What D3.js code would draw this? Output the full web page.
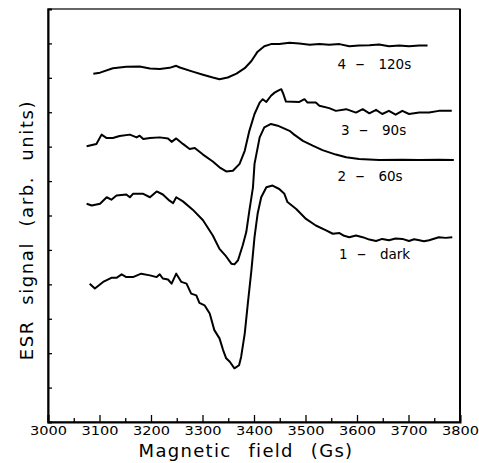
<!DOCTYPE html>
<html lang="en">
<head>
<meta charset="utf-8">
<title>ESR spectra</title>
<script src="https://cdn.jsdelivr.net/npm/d3@7"></script>
<style>
  body { margin: 0; background: #fff; }
  text { font-family: "DejaVu Sans", sans-serif; fill: #000; }
</style>
</head>
<body>
<script>
// [field (Gs), signal (arb. units)]
var dark = [[3081,4.02],[3091,3.88],[3107,4.07],[3123,4.19],[3133,4.19],[3143,4.29],[3152,4.21],[3165,4.21],
  [3181,4.31],[3198,4.26],[3211,4.21],[3217,4.29],[3223,4.17],[3233,4.14],[3240,4.02],[3249,4.31],[3259,4.07],
  [3269,4.02],[3278,3.73],[3288,3.68],[3294,3.46],[3304,3.39],[3314,3.15],[3323,2.67],[3333,2.43],[3340,2.09],
  [3346,1.85],[3353,1.75],[3362,1.56],[3371,1.65],[3375,1.89],[3382,2.57],[3388,3.44],[3395,4.41],[3401,5.37],
  [3407,6.05],[3414,6.53],[3424,6.82],[3436,6.87],[3449,6.77],[3459,6.63],[3465,6.39],[3482,6.19],[3501,5.90],
  [3520,5.71],[3540,5.57],[3553,5.47],[3566,5.49],[3575,5.41],[3585,5.37],[3598,5.42],[3611,5.37],[3624,5.30],
  [3637,5.26],[3649,5.32],[3662,5.28],[3675,5.33],[3688,5.32],[3701,5.26],[3711,5.31],[3721,5.28],[3730,5.25],
  [3740,5.28],[3759,5.37],[3772,5.35],[3785,5.37]];

var s60 = [[3075,6.34],[3085,6.29],[3101,6.34],[3114,6.53],[3123,6.46],[3133,6.58],[3152,6.61],[3159,6.53],
  [3165,6.63],[3185,6.63],[3198,6.53],[3211,6.70],[3223,6.61],[3236,6.43],[3243,6.36],[3249,6.53],[3262,6.41],
  [3281,6.17],[3301,5.86],[3320,5.42],[3333,5.03],[3346,4.81],[3356,4.60],[3362,4.58],[3369,4.70],[3378,5.13],
  [3385,5.52],[3391,6.14],[3398,6.82],[3401,7.50],[3411,8.27],[3420,8.56],[3433,8.66],[3446,8.61],[3469,8.46],
  [3478,8.35],[3495,8.17],[3514,8.03],[3533,7.90],[3559,7.77],[3579,7.69],[3604,7.64],[3643,7.61],[3688,7.62],
  [3721,7.61],[3759,7.62],[3788,7.61]];

var s90 = [[3075,8.01],[3094,8.08],[3104,8.35],[3114,8.25],[3126,8.25],[3139,8.31],[3159,8.35],[3172,8.27],
  [3178,8.32],[3185,8.22],[3198,8.25],[3217,8.27],[3233,8.24],[3240,8.14],[3249,8.24],[3262,8.08],[3275,7.93],
  [3285,7.96],[3301,7.77],[3320,7.57],[3333,7.40],[3346,7.28],[3359,7.30],[3372,7.50],[3382,7.88],[3391,8.46],
  [3401,8.95],[3411,9.28],[3417,9.38],[3424,9.30],[3433,9.48],[3440,9.57],[3446,9.62],[3453,9.67],[3457,9.53],
  [3462,9.31],[3488,9.30],[3498,9.38],[3504,9.28],[3520,9.28],[3527,9.19],[3546,9.12],[3559,9.04],[3579,9.09],
  [3598,8.99],[3611,9.09],[3624,8.97],[3637,9.07],[3649,8.95],[3662,9.04],[3675,8.93],[3688,9.04],[3701,8.95],
  [3721,8.99],[3740,8.99],[3759,9.04],[3784,9.04]];

var s120 = [[3088,10.12],[3101,10.15],[3126,10.28],[3152,10.32],[3178,10.33],[3198,10.27],[3217,10.26],
  [3236,10.29],[3249,10.35],[3256,10.30],[3281,10.18],[3301,10.09],[3320,10.01],[3333,9.96],[3349,10.01],
  [3366,10.12],[3382,10.28],[3395,10.49],[3407,10.76],[3420,10.92],[3433,10.98],[3449,10.98],[3469,11.02],
  [3488,11.00],[3508,10.96],[3527,10.98],[3546,10.96],[3566,10.98],[3585,10.92],[3604,10.94],[3624,10.95],
  [3643,10.97],[3662,10.92],[3682,10.94],[3701,10.92],[3721,10.94],[3737,10.94]];

var series = [dark, s60, s90, s120];
var labelNums = ["1", "2", "3", "4"];
var labelTags = ["dark", "60s", "90s", "120s"];
var xTickLabels = [3000, 3100, 3200, 3300, 3400, 3500, 3600, 3700, 3800];
var xMinorTicks = [3050, 3150, 3250, 3350, 3450, 3550, 3650, 3750];
var yTicks = [1, 2, 3, 4, 5, 6, 7, 8, 9, 10, 11];

// label anchors, in data units
var labelAt = [[3565, 4.75], [3562, 7.01], [3569, 8.34], [3562, 10.26]];

var width = 479, height = 463;
var x = d3.scaleLinear().domain([3000, 3800]).range([48, 460]);
var y = d3.scaleLinear().domain([0, 12]).range([422, 9]);

var svg = d3.select("body").append("svg")
    .attr("width", width)
    .attr("height", height);

// frame
svg.append("rect")
    .attr("x", x(3000)).attr("y", y(12))
    .attr("width", x(3800) - x(3000)).attr("height", y(0) - y(12))
    .attr("fill", "none").attr("stroke", "#000").attr("stroke-width", 1.2);

var xAxis = svg.append("g")
    .attr("transform", "translate(0," + y(0) + ")")
    .call(d3.axisBottom(x).tickValues(xTickLabels).tickSize(-7).tickFormat(d3.format("d")));
xAxis.select(".domain").attr("stroke-width", 2);
xAxis.selectAll(".tick line").attr("stroke-width", 1.3);
xAxis.selectAll("text")
    .attr("y", 13).attr("dy", 0)
    .attr("font-size", 12.5)
    .attr("font-family", "DejaVu Sans")
    .attr("textLength", 37)
    .attr("lengthAdjust", "spacingAndGlyphs");

svg.append("g")
    .attr("transform", "translate(0," + y(0) + ")")
    .call(d3.axisBottom(x).tickValues(xMinorTicks).tickSize(-4).tickFormat(""))
    .call(function(g) { g.select(".domain").remove(); })
    .selectAll(".tick line").attr("stroke-width", 1.3);

var yAxis = svg.append("g")
    .attr("transform", "translate(" + x(3000) + ",0)")
    .call(d3.axisLeft(y).tickValues(yTicks).tickSize(-4).tickFormat(""));
yAxis.select(".domain").attr("stroke-width", 2);
yAxis.selectAll(".tick line").attr("stroke-width", 1.3);

// right edge is heavier in the original
svg.append("line")
    .attr("x1", x(3800)).attr("x2", x(3800))
    .attr("y1", y(12)).attr("y2", y(0))
    .attr("stroke", "#000").attr("stroke-width", 2);

var line = d3.line()
    .x(function(d) { return x(d[0]); })
    .y(function(d) { return y(d[1]); });

svg.selectAll(".curve")
    .data(series)
    .enter().append("path")
    .attr("class", "curve")
    .attr("d", line)
    .attr("fill", "none")
    .attr("stroke", "#000")
    .attr("stroke-width", 2)
    .attr("stroke-linejoin", "round");

// curve labels: number, dash, tag
var lab = svg.selectAll(".lab")
    .data(labelNums)
    .enter().append("text")
    .attr("class", "lab")
    .attr("font-size", 13.5);
lab.append("tspan")
    .attr("x", function(d, i) { return x(labelAt[i][0]); })
    .attr("y", function(d, i) { return y(labelAt[i][1]); })
    .text(function(d) { return d; });
lab.append("tspan")
    .attr("x", function(d, i) { return x(labelAt[i][0]) + 18; })
    .attr("font-size", 18)
    .text("–");
lab.append("tspan")
    .attr("x", function(d, i) { return x(labelAt[i][0]) + 41; })
    .text(function(d, i) { return labelTags[i]; });

svg.append("text")
    .attr("x", 246).attr("y", 457)
    .attr("text-anchor", "middle")
    .attr("font-size", 18)
    .style("letter-spacing", "1.3px")
    .style("word-spacing", "10px")
    .text("Magnetic field (Gs)");

svg.append("text")
    .attr("transform", "translate(33,230) rotate(-90)")
    .attr("text-anchor", "middle")
    .attr("font-size", 18)
    .style("letter-spacing", "1.6px")
    .style("word-spacing", "8px")
    .text("ESR signal (arb. units)");
</script>
</body>
</html>
